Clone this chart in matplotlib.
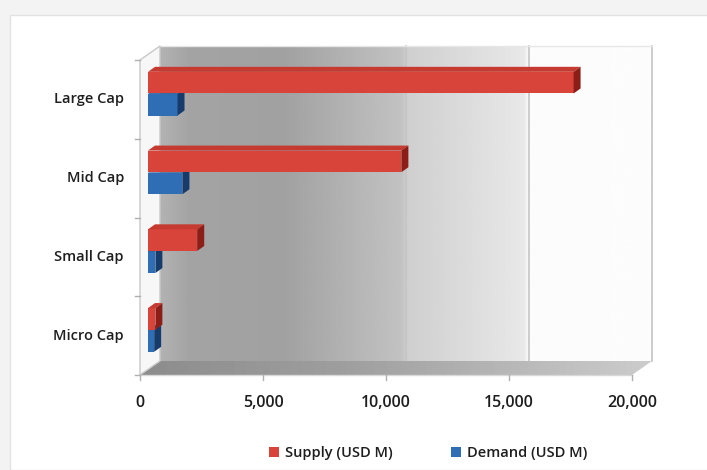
import numpy as np
import matplotlib.pyplot as plt
from matplotlib.patches import Polygon, Rectangle, Patch

plt.rcParams['font.family'] = ['Open Sans', 'DejaVu Sans']

# categories from bottom to top
categories = ['Micro Cap', 'Small Cap', 'Mid Cap', 'Large Cap']
supply = [300, 2000, 10300, 17300]   # USD M
demand = [250, 300, 1400, 1200]      # USD M
x_ticks = [0, 5000, 10000, 15000, 20000]
x_tick_labels = ['0', '5,000', '10,000', '15,000', '20,000']
series_names = ['Supply (USD M)', 'Demand (USD M)']

# pixel layout of the front plane
PX0, PX_PER = 140.0, 492.0 / 20000   # x: value 0 at px 140
PY0, PY_PER = 375.0, 78.75           # y: category row height in px
W, H = 707, 470

def dx(px):
    return px / PX_PER

def dy(px):
    return px / PY_PER

WDX, WDY = dx(20), dy(14)     # wall depth
BDX, BDY = dx(7), dy(5)       # bar depth
BAR_X0 = dx(8)                # bars start slightly behind the front plane
XMAX = 20000
NCAT = len(categories)
TXT = '#1e1e1e'

fig = plt.figure(figsize=(W / 100, H / 100), dpi=100)
fig.patch.set_facecolor('#f3f3f3')
ax = fig.add_axes([0, 0, 1, 1])
ax.set_xlim(-PX0 / PX_PER, (W - PX0) / PX_PER)
ax.set_ylim((PY0 - H) / PY_PER, PY0 / PY_PER)
ax.axis('off')

# white panel behind the chart
ax.add_patch(Rectangle((dx(10 - PX0), dy(PY0 - H)), dx(W), dy(H - 15),
                       facecolor='white', edgecolor='#e2e2e2', lw=1, zorder=0))

# back wall with horizontal grey gradient
stops_x = [0, 0.06, 0.25, 0.49, 0.50, 0.74, 0.75, 1.0]
stops_v = [0.70, 0.64, 0.63, 0.76, 0.81, 0.91, 0.985, 0.99]
gx = np.linspace(0, 1, 500)
gv = np.interp(gx, stops_x, stops_v)
img = np.tile(gv, (50, 1))
ax.imshow(img, cmap='gray', vmin=0, vmax=1, aspect='auto',
          extent=(WDX, XMAX + WDX, WDY, NCAT + WDY), zorder=1,
          interpolation='bilinear')
for t in x_ticks[2:]:
    ax.plot([t + WDX, t + WDX], [WDY, NCAT + WDY], color='#c4c4c4', lw=1.2, zorder=2)
ax.plot([WDX, XMAX + WDX], [NCAT + WDY] * 2, color='#e6e6e6', lw=1, zorder=2)

# floor
floor = Polygon([(0, 0), (XMAX, 0), (XMAX + WDX, WDY), (WDX, WDY)], closed=True,
                facecolor='none', edgecolor='none')
ax.add_patch(floor)
fimg = np.tile(np.interp(gx, [0, 0.4, 1], [0.55, 0.62, 0.80]), (10, 1))
fim = ax.imshow(fimg, cmap='gray', vmin=0, vmax=1, aspect='auto',
                extent=(0, XMAX + WDX, 0, WDY), zorder=3, interpolation='bilinear')
fim.set_clip_path(floor)
ax.plot([0, XMAX], [0, 0], color='#d8d8d8', lw=1, zorder=3)

# left wall
ax.add_patch(Polygon([(0, 0), (0, NCAT), (WDX, NCAT + WDY), (WDX, WDY)], closed=True,
                     facecolor='#f7f7f7', edgecolor='#c8c8c8', lw=1, zorder=3))

# axis ticks
for i in range(NCAT + 1):
    ax.plot([-dx(5), 0], [i, i], color='#b0b0b0', lw=1, zorder=3)
for t in x_ticks:
    ax.plot([t, t], [0, -dy(5)], color='#b0b0b0', lw=1, zorder=3)


def bar3d(x0, width, y0, h, front, top, side):
    x1 = x0 + width
    ax.barh(y0 + h / 2, width, height=h, left=x0, color=front, zorder=5)
    ax.add_patch(Polygon([(x0, y0 + h), (x1, y0 + h), (x1 + BDX, y0 + h + BDY),
                          (x0 + BDX, y0 + h + BDY)], closed=True, facecolor=top,
                         edgecolor='none', zorder=5))
    ax.add_patch(Polygon([(x1, y0), (x1 + BDX, y0 + BDY), (x1 + BDX, y0 + h + BDY),
                          (x1, y0 + h)], closed=True, facecolor=side,
                         edgecolor='none', zorder=5))


BAR_H = 0.275
for i in range(NCAT):
    c = i + 0.5
    bar3d(BAR_X0, demand[i], c - 0.205, BAR_H, '#2f6db4', '#285e9e', '#173c6b')
    bar3d(BAR_X0, supply[i], c + 0.075, BAR_H, '#d8433a', '#c63b31', '#8c1e17')

# labels
for i, name in enumerate(categories):
    ax.text(-dx(16), i + 0.5, name, ha='right', va='center', fontsize=10.5,
            fontweight='semibold', color=TXT, zorder=6)
for t, lab in zip(x_ticks, x_tick_labels):
    ax.text(t, -dy(28), lab, ha='center', va='center', fontsize=11.5,
            fontweight='semibold', color=TXT, zorder=6)

handles = [Patch(facecolor='#d8433a'), Patch(facecolor='#2f6db4')]
fig.legend(handles, series_names, loc='center', bbox_to_anchor=(428 / W, 1 - 453 / H),
           ncol=2, frameon=False, handlelength=0.7, handleheight=0.7,
           handletextpad=0.4, columnspacing=4.0,
           prop={'size': 10.5, 'weight': 'semibold'})
for txt in fig.legends[0].get_texts():
    txt.set_color(TXT)

fig.savefig('out.png', dpi=100, facecolor=fig.get_facecolor())
